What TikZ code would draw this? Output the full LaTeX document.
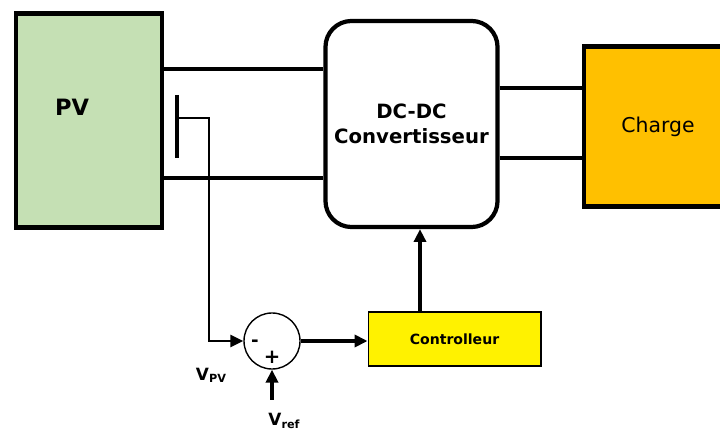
\documentclass[tikz,border=0pt]{standalone}
\usepackage{fontspec}
\setmainfont{DejaVu Sans}
\usetikzlibrary{arrows.meta}
\definecolor{pvgreen}{HTML}{C5E0B4}
\definecolor{chargeorange}{HTML}{FFC000}
\tikzset{
  box/.style={draw=black,line width=3pt,inner sep=0pt},
  wire/.style={line width=2.3pt},
  sense/.style={line width=1.6pt},
  arr/.style={-{Triangle[length=3.2mm,width=3mm]}},
}
\begin{document}
\begin{tikzpicture}[x=0.025cm,y=-0.025cm]
  \useasboundingbox (0,0) rectangle (720,431);
  \clip (0,0) rectangle (720,431);
  % blocks
  \node[box,fill=pvgreen,minimum width=3.65cm,minimum height=5.35cm] (pv) at (89,120.5) {};
  \node[font=\bfseries\fontsize{16}{18}\selectfont] (pvtext) at (72,107) {PV};
  \node[box,rounded corners=0.65cm,minimum width=4.3cm,minimum height=5.15cm,
        align=center,font=\bfseries\fontsize{14}{17.5}\selectfont] (conv) at (411.5,124)
        {DC-DC\\Convertisseur};
  \node[box,fill=chargeorange,minimum width=3.7cm,minimum height=4cm,
        font=\fontsize{14.5}{17}\selectfont] (charge) at (658,126.5) {Charge};
  \node[draw=black,line width=1.4pt,fill=yellow,minimum width=4.3cm,minimum height=1.35cm,
        font=\bfseries\fontsize{10}{12}\selectfont] (ctrl) at (454.5,339) {Controlleur};
  \node[draw=black,line width=1pt,circle,minimum size=1.4cm] (sum) at (272,341) {};
  \node[font=\bfseries\fontsize{13}{14}\selectfont,inner sep=0pt] (minus) at (255,343) {-};
  \node[font=\bfseries\fontsize{14}{14}\selectfont,inner sep=0pt] (plus) at (272,357) {+};
  \node[font=\bfseries\fontsize{12}{14}\selectfont] (vpv) at (211,375)
        {V\raisebox{-0.25ex}{\fontsize{8}{9}\selectfont PV}};
  \node[font=\bfseries\fontsize{12}{14}\selectfont] (vref) at (284,421)
        {V\raisebox{-0.25ex}{\fontsize{8}{9}\selectfont ref}};
  % power wires
  \draw[wire] (pv.east |- 0,69) -- (conv.west |- 0,69);
  \draw[wire] (pv.east |- 0,178) -- (conv.west |- 0,178);
  \draw[wire] (conv.east |- 0,88) -- (charge.west |- 0,88);
  \draw[wire] (conv.east |- 0,158) -- (charge.west |- 0,158);
  % voltage sensor
  \coordinate (tap) at (177,118);
  \draw[wire] (177,95) -- (177,158);
  \draw[sense,arr] (tap) -- (209,118) |- (sum.west);
  \draw[wire,arr] (vref.north -| sum.south) ++(0,-9) -- (sum.south);
  \draw[wire,arr] (sum.east) -- (sum.east -| ctrl.west);
  \draw[wire,arr] (ctrl.north -| 420,0) -- (conv.south -| 420,0);
\end{tikzpicture}
\end{document}
